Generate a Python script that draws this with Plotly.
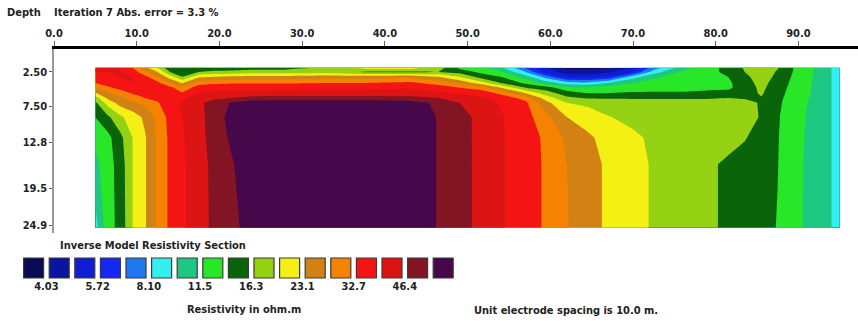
import numpy as np
import plotly.graph_objects as go

# ---------------- data ----------------
# horizontal positions of model nodes (m)
x_pos = [5, 6.5, 8, 9.5, 11, 12.5, 14, 15.5, 17.5, 19.5, 21.5, 24, 28, 33, 38, 43, 46.5,
         49, 51.5, 54, 57, 59.5, 62, 64.5, 67, 70, 72.5, 76, 79, 81.5, 83.5, 85.5, 87.5,
         89.5, 91.5, 93.5, 95]
# depths of model nodes (m)
depths = [1.9, 2.5, 3.2, 4.1, 4.8, 5.6, 6.3, 7.0, 9.1, 12.1, 16.0, 25.3]

# resistivity (ohm.m), one vertical profile per x position (top -> bottom)
profiles = [
    [38.98, 38.98, 37.65, 32.74, 27.50, 22.69, 17.78, 15.73, 13.68, 12.11, 10.90, 9.00],
    [38.98, 38.98, 38.31, 35.73, 31.62, 26.55, 23.91, 20.79, 15.73, 12.98, 12.76, 12.76],
    [38.98, 38.98, 38.98, 37.65, 34.50, 30.01, 26.55, 24.76, 18.73, 15.46, 14.67, 14.42],
    [32.74, 36.35, 38.98, 38.98, 36.35, 33.32, 29.49, 26.55, 21.16, 19.39, 19.39, 19.39],
    [24.33, 28.48, 34.50, 38.31, 38.31, 35.73, 32.74, 28.98, 23.91, 22.69, 22.69, 22.69],
    [19.39, 23.09, 27.50, 34.50, 37.65, 36.35, 34.50, 32.18, 28.98, 28.23, 28.23, 28.23],
    [14.17, 16.29, 21.16, 27.50, 34.50, 37.65, 37.65, 36.35, 34.50, 33.90, 33.90, 33.90],
    [14.42, 14.67, 16.29, 22.69, 28.98, 33.32, 37.65, 39.67, 38.98, 38.31, 37.65, 37.65],
    [14.93, 16.29, 22.30, 30.54, 35.73, 38.98, 42.54, 44.82, 44.05, 44.05, 43.28, 43.28],
    [14.93, 16.87, 23.09, 31.62, 36.35, 40.36, 44.82, 49.78, 50.65, 49.78, 48.92, 48.49],
    [14.93, 17.17, 23.91, 32.18, 37.00, 41.08, 46.42, 56.24, 59.27, 57.23, 54.32, 52.91],
    [15.19, 17.78, 24.33, 32.18, 37.00, 41.08, 49.78, 60.31, 65.81, 65.81, 62.46, 59.27],
    [15.19, 17.78, 24.33, 32.18, 37.00, 41.80, 49.78, 61.37, 71.81, 71.81, 71.81, 71.81],
    [16.87, 18.09, 25.20, 32.74, 37.65, 41.80, 49.78, 61.37, 71.81, 71.81, 71.81, 71.81],
    [21.16, 15.73, 25.20, 32.74, 37.65, 41.80, 49.78, 61.37, 71.81, 71.81, 71.81, 71.81],
    [21.16, 15.73, 26.55, 33.90, 38.31, 41.80, 48.92, 59.27, 65.81, 65.81, 65.81, 65.81],
    [17.78, 16.29, 23.09, 30.54, 35.73, 40.36, 46.42, 53.38, 54.32, 54.32, 54.32, 54.32],
    [13.21, 15.19, 19.39, 26.55, 32.74, 38.31, 42.54, 46.42, 48.92, 48.92, 48.92, 48.92],
    [12.11, 13.21, 15.19, 21.16, 30.54, 36.35, 40.36, 43.28, 44.82, 44.82, 44.82, 44.82],
    [9.99, 11.90, 13.68, 16.29, 23.09, 31.62, 35.73, 38.31, 39.67, 39.67, 39.67, 39.67],
    [6.80, 8.10, 10.53, 13.21, 16.29, 23.09, 31.08, 33.90, 35.11, 35.73, 35.73, 35.73],
    [4.80, 5.24, 7.42, 10.53, 14.93, 17.78, 21.16, 24.33, 28.98, 31.62, 31.90, 31.90],
    [3.89, 4.40, 5.24, 8.84, 12.11, 14.93, 16.87, 19.39, 23.09, 26.55, 27.50, 27.74],
    [3.83, 4.40, 5.24, 8.39, 11.90, 13.68, 16.01, 18.73, 21.16, 23.91, 24.98, 24.98],
    [3.96, 4.63, 5.71, 9.65, 12.32, 13.68, 16.01, 17.78, 19.56, 21.53, 22.30, 22.30],
    [4.80, 5.71, 8.84, 11.49, 12.76, 13.92, 16.01, 17.47, 18.41, 20.08, 20.43, 20.43],
    [7.42, 8.84, 11.09, 12.32, 12.98, 13.92, 16.01, 17.47, 17.78, 18.73, 19.06, 19.06],
    [10.53, 11.90, 12.54, 12.76, 12.98, 13.92, 16.01, 17.47, 17.78, 17.78, 17.78, 17.78],
    [12.76, 12.76, 12.76, 12.98, 13.21, 14.17, 16.01, 17.47, 17.78, 17.47, 16.87, 16.87],
    [14.42, 14.42, 13.68, 13.21, 13.21, 14.42, 16.29, 17.78, 17.78, 17.47, 15.73, 15.73],
    [16.58, 16.29, 15.73, 15.19, 14.93, 15.19, 16.01, 17.17, 17.78, 16.43, 15.46, 15.19],
    [18.09, 17.78, 17.47, 17.17, 16.87, 16.58, 16.15, 16.01, 16.01, 15.46, 14.67, 14.54],
    [16.43, 16.01, 15.73, 15.19, 14.93, 14.67, 14.42, 14.17, 13.92, 13.80, 13.73, 13.56],
    [13.56, 13.45, 13.21, 12.98, 12.76, 12.54, 12.32, 12.32, 12.21, 12.11, 12.11, 12.11],
    [11.90, 11.79, 11.69, 11.59, 11.50, 11.50, 11.39, 11.29, 11.19, 11.09, 11.00, 10.90],
    [9.90, 9.90, 9.90, 9.90, 9.90, 9.90, 9.90, 9.90, 9.90, 9.90, 9.90, 9.90],
    [9.15, 9.15, 9.15, 9.15, 9.15, 9.15, 9.15, 9.15, 9.15, 9.15, 9.15, 9.15],
]

# colour scale legend labels (ohm.m) and colours (low -> high)
legend_labels = [4.03, 5.72, 8.10, 11.5, 16.3, 23.1, 32.7, 46.4]
band_colors = ["#0b0b55", "#0a14a0", "#0f1ed2", "#1428f5", "#1e78f0", "#32f0f0",
               "#1ec882", "#28e628", "#0a640a", "#96d214", "#f5f014", "#d28214",
               "#f58200", "#f51414", "#dc1414", "#821423", "#46084b"]

x_tick_vals = [0, 10, 20, 30, 40, 50, 60, 70, 80, 90]
x_tick_text = ["0.0", "10.0", "20.0", "30.0", "40.0", "50.0", "60.0", "70.0", "80.0", "90.0"]
depth_tick_vals = [2.5, 7.5, 12.8, 19.5, 24.9]
depth_tick_text = ["2.50", "7.50", "12.8", "19.5", "24.9"]

# ---------------- figure ----------------
W, H = 858, 321
FONT = "DejaVu Sans Condensed, Liberation Sans Narrow, DejaVu Sans, sans-serif"

z_log = np.log10(np.array(profiles, dtype=float)).T  # rows = depth, cols = x

n_col = len(band_colors)
lvl_start = np.log10(legend_labels[0])
lvl_size = (np.log10(legend_labels[-1]) - lvl_start) / (2 * (len(legend_labels) - 1))
lvl_end = lvl_start + (n_col - 2) * lvl_size
cscale = [[i / (n_col - 1), c] for i, c in enumerate(band_colors)]

fig = go.Figure()
fig.add_trace(go.Contour(
    x=x_pos, y=depths, z=z_log,
    colorscale=cscale, showscale=False,
    contours=dict(start=lvl_start, end=lvl_end, size=lvl_size,
                  coloring="fill", showlines=False),
    line=dict(width=0, smoothing=0),
    hoverinfo="skip",
))

# colour legend swatches
fig.add_trace(go.Scatter(
    x=list(range(n_col)), y=[0] * n_col, mode="markers",
    marker=dict(symbol="square", size=20, color=band_colors,
                line=dict(color="#3a3a3a", width=1.2)),
    xaxis="x2", yaxis="y2", hoverinfo="skip", cliponaxis=False,
))

def px_x(p):
    return p / W

def px_y(p):
    return 1 - p / H

tick_font = dict(family=FONT, size=11, color="#222", weight="bold")

fig.update_layout(
    width=W, height=H,
    margin=dict(l=0, r=0, t=0, b=0, autoexpand=False),
    paper_bgcolor="white", plot_bgcolor="white",
    showlegend=False,
    xaxis=dict(domain=[px_x(54), 1.0], range=[0, 97.2], side="top",
               tickvals=x_tick_vals, ticktext=x_tick_text,
               ticks="outside", ticklen=5, tickcolor="#666", tickwidth=1,
               showline=True, linecolor="black", linewidth=2.5,
               showgrid=False, zeroline=False, tickfont=tick_font),
    yaxis=dict(domain=[px_y(233), px_y(49)], range=[26.05, -0.86],
               tickvals=depth_tick_vals, ticktext=depth_tick_text,
               ticks="outside", ticklen=3, tickcolor="#666",
               showline=True, linecolor="#999", linewidth=1.5,
               showgrid=False, zeroline=False, tickfont=tick_font),
    xaxis2=dict(domain=[px_x(20.8), px_x(456)], range=[-0.5, n_col - 0.5],
                anchor="y2", tickvals=[2 * i + 0.5 for i in range(len(legend_labels))],
                ticktext=[("%.2f" % v) if v < 10 else ("%.1f" % v) for v in legend_labels],
                ticks="", showline=False, showgrid=False, zeroline=False,
                tickfont=tick_font),
    yaxis2=dict(domain=[px_y(278), px_y(258)], range=[-0.5, 0.5], anchor="x2",
                showticklabels=False, ticks="", showline=False,
                showgrid=False, zeroline=False),
)

ann_font = dict(family=FONT, size=11, color="#222", weight="bold")
texts = [
    ("Depth", 5, 12),
    ("Iteration 7 Abs. error = 3.3 %", 52, 12),
    ("Inverse Model Resistivity Section", 58, 245),
    ("Resistivity in ohm.m", 185, 309),
    ("Unit electrode spacing is 10.0 m.", 472, 310),
]
for t, px, py in texts:
    fig.add_annotation(text=t, x=px_x(px), y=px_y(py), xref="paper", yref="paper",
                       xanchor="left", yanchor="middle", showarrow=False, font=ann_font)

fig.write_html(
    "out.html",
    config={"displayModeBar": False},
    post_script="document.body.style.margin='0';document.body.style.overflow='hidden';",
)
